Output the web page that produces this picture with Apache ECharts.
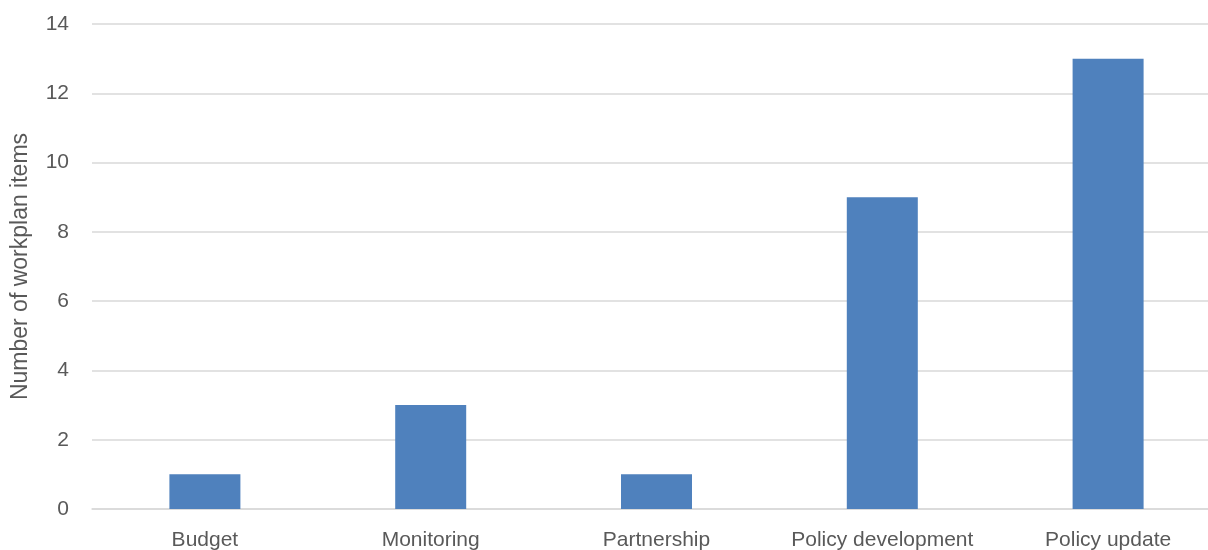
<!DOCTYPE html>
<html><head><meta charset="utf-8">
<script src="https://cdn.jsdelivr.net/npm/echarts@6/dist/echarts.min.js"></script>
<style>html,body{margin:0;padding:0;background:#fff}#c{width:1208px;height:550px}</style>
</head><body><div id="c"></div>
<script>
var categories = ["Budget", "Monitoring", "Partnership", "Policy development", "Policy update"];
var values = [1, 3, 1, 9, 13];
var yTicks = {min: 0, max: 14, interval: 2};
var yName = "Number of workplan items";

var chart = echarts.init(document.getElementById('c'));
chart.setOption({
  animation: false,
  grid: {left: 92, top: 24, bottom: 41, width: 1129, containLabel: false, outerBoundsMode: 'none'},
  xAxis: {
    type: 'category', data: categories,
    axisLine: {lineStyle: {color: '#d9d9d9', width: 1.5}},
    axisTick: {show: false},
    axisLabel: {color: '#595959', fontSize: 21, fontFamily: 'Liberation Sans', margin: 21, interval: 0, hideOverlap: false}
  },
  yAxis: {
    type: 'value', min: yTicks.min, max: yTicks.max, interval: yTicks.interval,
    name: yName, nameLocation: 'middle', nameGap: 60, nameRotate: 90,
    nameTextStyle: {color: '#595959', fontSize: 23, fontFamily: 'Liberation Sans'},
    axisLine: {show: false}, axisTick: {show: false},
    splitLine: {lineStyle: {color: '#d9d9d9', width: 1.5}},
    axisLabel: {color: '#595959', fontSize: 21, fontFamily: 'Liberation Sans', margin: 23}
  },
  series: [{
    type: 'bar', data: values, barWidth: 71,
    itemStyle: {color: '#4F81BD'}
  }]
});
</script></body></html>
